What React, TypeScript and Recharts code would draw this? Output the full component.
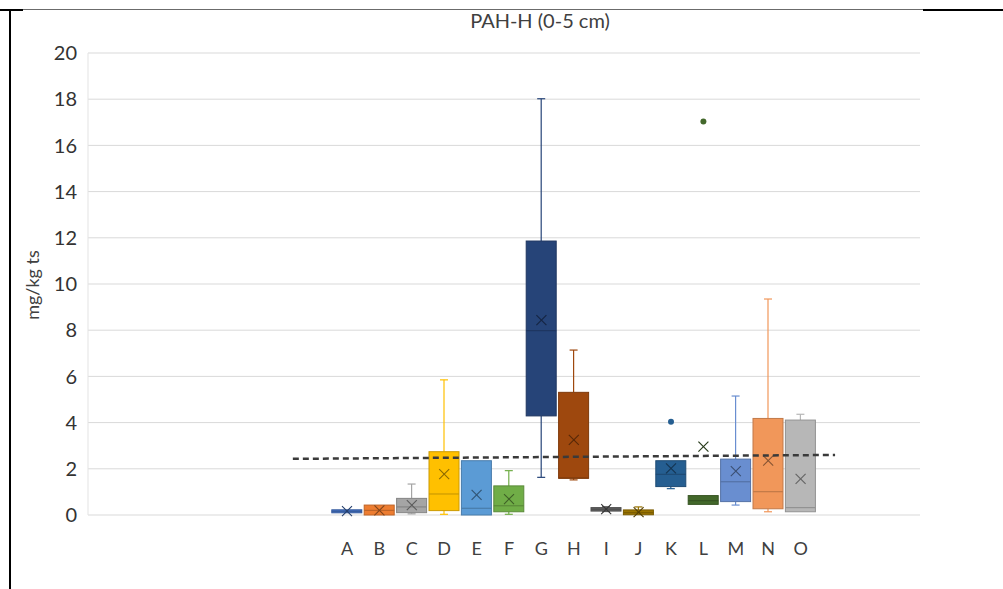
import React from 'react';
import {
  ComposedChart,
  Bar,
  Scatter,
  XAxis,
  YAxis,
  CartesianGrid,
} from 'recharts';

// ---- data ----
const categories = ['A', 'B', 'C', 'D', 'E', 'F', 'G', 'H', 'I', 'J', 'K', 'L', 'M', 'N', 'O'];
const whiskerMin = [0.1, 0.0, 0.05, 0.03, 0.0, 0.03, 1.63, 1.52, 0.15, 0.01, 1.14, 0.46, 0.43, 0.14, 0.14];
const q1 = [0.1, 0.0, 0.1, 0.19, 0.0, 0.14, 4.29, 1.59, 0.17, 0.01, 1.23, 0.46, 0.58, 0.27, 0.14];
const median = [0.16, 0.2, 0.35, 0.91, 0.29, 0.4, 7.98, 1.6, 0.25, 0.1, 1.76, 0.62, 1.44, 1.01, 0.32];
const q3 = [0.22, 0.43, 0.72, 2.74, 2.35, 1.26, 11.86, 5.31, 0.32, 0.22, 2.35, 0.84, 2.42, 4.18, 4.11];
const whiskerMax = [0.22, 0.43, 1.34, 5.85, 2.35, 1.92, 18.02, 7.14, 0.36, 0.35, 2.35, 0.84, 5.15, 9.35, 4.36];
const means = [0.17, 0.2, 0.43, 1.77, 0.87, 0.69, 8.44, 3.25, 0.25, 0.12, 2.02, 2.96, 1.9, 2.35, 1.56];
const outliers: (number | null)[] = [null, null, null, null, null, null, null, null, null, null, 4.04, 17.03, null, null, null];
const colors = [
  '#4472C4', '#ED7D31', '#A5A5A5', '#FFC000', '#5B9BD5', '#70AD47', '#264478', '#9E480E',
  '#636363', '#997300', '#255E91', '#43682B', '#698ED0', '#F1975A', '#B7B7B7',
];
const yTicks = [0, 2, 4, 6, 8, 10, 12, 14, 16, 18, 20];
const blanksBefore = 7;
const blanksAfter = 3;
// dashed reference line (x in category-index units, A = 0)
const refLineX = [-1.68, 15.05];
const refLineY = [2.43, 2.6];
const title = 'PAH-H (0-5 cm)';
const yLabel = 'mg/kg ts';

// ---- table built from the arrays ----
type Row = {
  key: string;
  label: string;
  idx: number;
  range?: [number, number];
  mean?: number;
  outlier?: number | null;
};
const rows: Row[] = [];
for (let i = 0; i < blanksBefore; i++) rows.push({ key: 'pre' + i, label: '', idx: -1 });
categories.forEach((c, i) => {
  rows.push({
    key: c,
    label: c,
    idx: i,
    range: [whiskerMin[i], whiskerMax[i]],
    mean: means[i],
    outlier: outliers[i],
  });
});
for (let i = 0; i < blanksAfter; i++) rows.push({ key: 'post' + i, label: '', idx: -1 });

const lineData = refLineX.map((x, i) => ({ lx: x, ly: refLineY[i] }));

function shade(hex: string, f: number) {
  const n = parseInt(hex.slice(1), 16);
  const r = Math.round(((n >> 16) & 255) * f);
  const g = Math.round(((n >> 8) & 255) * f);
  const b = Math.round((n & 255) * f);
  return `rgb(${r},${g},${b})`;
}

const BoxShape = (props: any) => {
  const { x, y, width, height, payload } = props;
  if (!payload || payload.idx < 0) return null;
  const i = payload.idx;
  const lo = whiskerMin[i];
  const hi = whiskerMax[i];
  const k = hi - lo !== 0 ? height / (hi - lo) : 0;
  const py = (v: number) => y + (hi - v) * k;
  const cx = x + width / 2;
  const col = colors[i];
  const dark = shade(col, 0.8);
  const yq3 = py(q3[i]);
  const yq1 = py(q1[i]);
  const ymed = py(median[i]);
  const cap = 4;
  const boxH = Math.max(yq1 - yq3, 3);
  const boxTop = yq1 - yq3 < 3 ? (yq1 + yq3) / 2 - 1.5 : yq3;
  return (
    <g>
      {hi > q3[i] && (
        <g stroke={col} strokeWidth={1.2}>
          <line x1={cx} x2={cx} y1={py(hi)} y2={yq3} />
          <line x1={cx - cap} x2={cx + cap} y1={py(hi)} y2={py(hi)} />
        </g>
      )}
      {lo < q1[i] && (
        <g stroke={col} strokeWidth={1.2}>
          <line x1={cx} x2={cx} y1={yq1} y2={py(lo)} />
          <line x1={cx - cap} x2={cx + cap} y1={py(lo)} y2={py(lo)} />
        </g>
      )}
      <rect x={x} y={boxTop} width={width} height={boxH} fill={col} stroke={dark} strokeWidth={1} />
      <line x1={x} x2={x + width} y1={ymed} y2={ymed} stroke={dark} strokeWidth={1.2} />
    </g>
  );
};

const MeanShape = (props: any) => {
  const { cx, cy, payload } = props;
  if (!payload || payload.idx < 0 || cx == null || cy == null) return null;
  const s = 5;
  const col = shade(colors[payload.idx], 0.55);
  return (
    <g stroke={col} strokeWidth={1.1}>
      <line x1={cx - s} x2={cx + s} y1={cy - s} y2={cy + s} />
      <line x1={cx - s} x2={cx + s} y1={cy + s} y2={cy - s} />
    </g>
  );
};

const OutlierShape = (props: any) => {
  const { cx, cy, payload } = props;
  if (!payload || payload.idx < 0 || payload.outlier == null || cx == null || cy == null) return null;
  return <circle cx={cx} cy={cy} r={3} fill={colors[payload.idx]} />;
};

export default function App() {
  return (
    <div
      style={{
        position: 'absolute',
        left: 0,
        top: 0,
        width: 1003,
        height: 589,
        background: '#fff',
        fontFamily: 'Lato, "Open Sans", sans-serif',
        overflow: 'hidden',
      }}
    >
      {/* frame lines */}
      <div style={{ position: 'absolute', left: 0, top: 9, width: 23, height: 2, background: '#000' }} />
      <div style={{ position: 'absolute', left: 23, top: 9, width: 900, height: 1, background: '#6b6b6b' }} />
      <div style={{ position: 'absolute', left: 923, top: 9, width: 80, height: 2, background: '#000' }} />
      <div style={{ position: 'absolute', left: 9, top: 9, width: 2, height: 580, background: '#000' }} />
      {/* title */}
      <div
        style={{
          position: 'absolute',
          left: 390,
          width: 300,
          top: 8,
          textAlign: 'center',
          fontSize: 20,
          color: '#404040',
        }}
      >
        {title}
      </div>
      {/* y label */}
      <div
        style={{
          position: 'absolute',
          left: 32 - 60,
          top: 285 - 12,
          width: 120,
          height: 24,
          lineHeight: '24px',
          textAlign: 'center',
          fontSize: 18,
          color: '#404040',
          transform: 'rotate(-90deg)',
        }}
      >
        {yLabel}
      </div>
      <div style={{ position: 'absolute', left: 0, top: 0 }}>
        <ComposedChart
          width={1003}
          height={589}
          data={rows}
          margin={{ top: 53, right: 83, bottom: 34, left: 0 }}
        >
          <CartesianGrid horizontal vertical={false} stroke="#d9d9d9" />
          <XAxis
            dataKey="key"
            type="category"
            height={40}
            tickFormatter={(v: any) => {
              const r = rows.find((rr) => rr.key === v);
              return r ? r.label : '';
            }}
            interval={0}
            axisLine={false}
            tickLine={false}
            tickSize={0}
            tickMargin={27}
            padding={{ left: 16, right: 6 }}
            tick={{ fontSize: 18, fill: '#404040' }}
          />
          <XAxis xAxisId="n" dataKey="lx" type="number" domain={[-8, 17.67]} hide allowDataOverflow />
          <YAxis
            type="number"
            domain={[0, 20]}
            ticks={yTicks}
            width={88}
            interval={0}
            axisLine={{ stroke: '#e3e3e3' }}
            tickLine={false}
            tickSize={0}
            tickMargin={11}
            tick={{ fontSize: 20, fill: '#333' }}
          />
          <Bar dataKey="range" barSize={30} shape={<BoxShape />} isAnimationActive={false} />
          <Scatter dataKey="mean" shape={<MeanShape />} isAnimationActive={false} />
          <Scatter dataKey="outlier" shape={<OutlierShape />} isAnimationActive={false} />
          <Scatter
            xAxisId="n"
            data={lineData}
            dataKey="ly"
            line={{ stroke: '#3a3a3a', strokeWidth: 2.5, strokeDasharray: '6 4' }}
            shape={() => null}
            isAnimationActive={false}
          />
        </ComposedChart>
      </div>
    </div>
  );
}
